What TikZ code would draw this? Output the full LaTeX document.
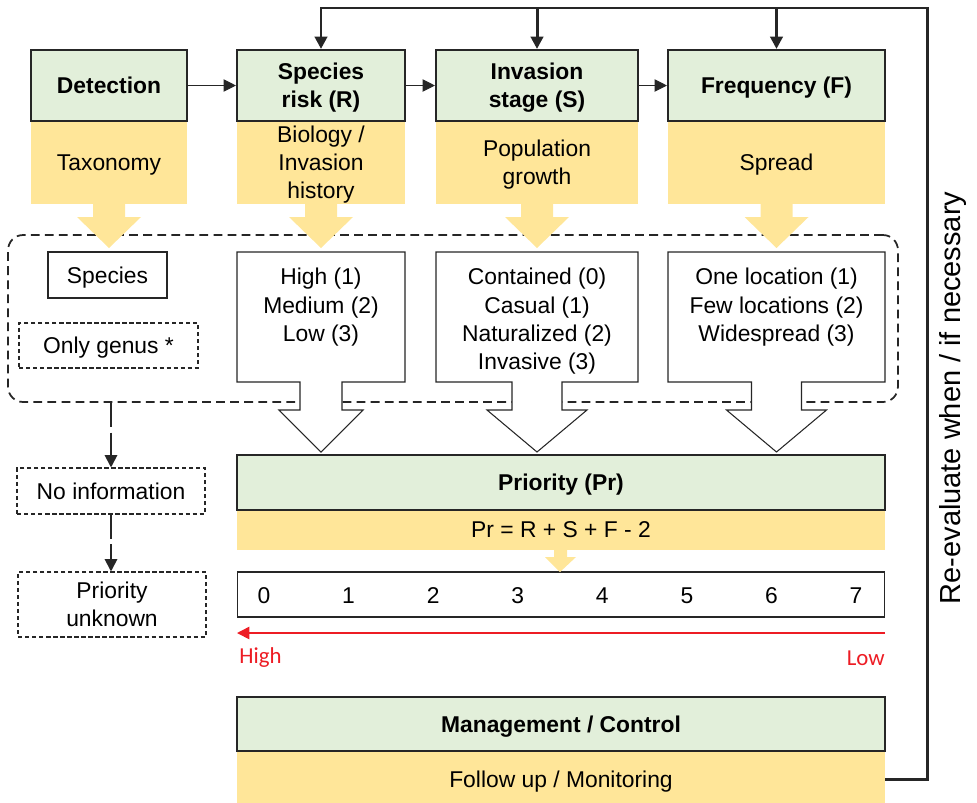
\documentclass[tikz,border=0pt]{standalone}
\usepackage{fontspec}
\setmainfont{Liberation Sans}
\newfontfamily\calibri{Carlito}
\usetikzlibrary{arrows.meta}
\usetikzlibrary{calc}

\definecolor{boxgreen}{HTML}{E2EFDA}
\definecolor{boxyellow}{HTML}{FFE699}
\definecolor{boxline}{HTML}{262626}
\definecolor{scalered}{HTML}{ED1C24}

\begin{document}
\fontsize{13}{16}\selectfont
\begin{tikzpicture}[x=0.02cm, y=-0.02cm]
            \tikzset{head/.style = {draw=boxline, line width=1.2pt, fill=boxgreen, font=\bfseries, align=center, inner sep=0pt, text depth=0pt}}
            \tikzset{info/.style = {fill=boxyellow, align=center, inner sep=0pt, text depth=0pt}}
            \tikzset{plain/.style = {draw=boxline, line width=0.6pt, fill=white, align=center, inner sep=0pt, text depth=0pt}}
            \tikzset{vague/.style = {plain, dash pattern=on 2.5pt off 1.5pt}}
            \tikzset{choice/.style = {draw=boxline, line width=0.6pt, fill=white}}
            \tikzset{hint/.style = {fill=boxyellow}}
            \tikzset{edge/.style = {-,> = {Triangle[length=7pt, width=7pt]}}}
            \tikzset{feedback/.style = {edge, draw=boxline, line width=1.7pt}}
            \tikzset{unsure/.style = {edge, draw=boxline, line width=1.1pt, dash pattern=on 14pt off 3pt}}
            \useasboundingbox (0,0) rectangle (977,802);
            % steps and their criteria
            \node[info, minimum width=3.12cm, minimum height=1.66cm] (taxon) at (109,162.5) {Taxonomy};
            \node[info, minimum width=3.36cm, minimum height=1.66cm] (biology) at (321,162.5) {Biology /\\Invasion\\history};
            \node[info, minimum width=4.04cm, minimum height=1.66cm] (growth) at (537,162.5) {Population\\growth};
            \node[info, minimum width=4.34cm, minimum height=1.66cm] (spread) at (776.5,162.5) {Spread};
            \node[head, minimum width=3.12cm, minimum height=1.42cm] (detect) at (109,85.5) {Detection};
            \node[head, minimum width=3.36cm, minimum height=1.42cm] (risk) at (321,85.5) {Species\\risk (R)};
            \node[head, minimum width=4.04cm, minimum height=1.42cm] (stage) at (537,85.5) {Invasion\\stage (S)};
            \node[head, minimum width=4.34cm, minimum height=1.42cm] (freq) at (776.5,85.5) {Frequency (F)};
            \draw[edge,->,draw=boxline,line width=0.6pt] (detect) -- (risk);
            \draw[edge,->,draw=boxline,line width=0.6pt] (risk) -- (stage);
            \draw[edge,->,draw=boxline,line width=0.6pt] (stage) -- (freq);
            % scores
            \node[draw=boxline, line width=1pt, dash pattern=on 5pt off 3pt, rounded corners=0.3cm, minimum width=17.8cm, minimum height=3.34cm] (known) at (453,318.5) {};
            \foreach \cx in {109,321,537,776.5}
              \fill[hint] (\cx-16,203) -- (\cx+16,203) -- (\cx+16,217) -- (\cx+32,217) -- (\cx,248) -- (\cx-32,217) -- (\cx-16,217) -- cycle;
            \foreach \cx/\hw/\sw/\aw in {321/84/21/42, 537/101/25/50, 776.5/108.5/25/50}
              \draw[choice] (\cx-\hw,252) -- (\cx+\hw,252) -- (\cx+\hw,382) -- (\cx+\sw,382) -- (\cx+\sw,410) -- (\cx+\aw,410) -- (\cx,452) -- (\cx-\aw,410) -- (\cx-\sw,410) -- (\cx-\sw,382) -- (\cx-\hw,382) -- cycle;
            \node[anchor=north, align=center, inner sep=0pt] (risklist) at (321,268) {High (1)\\Medium (2)\\Low (3)};
            \node[anchor=north, align=center, inner sep=0pt] (stagelist) at (537,268) {Contained (0)\\Casual (1)\\Naturalized (2)\\Invasive (3)};
            \node[anchor=north, align=center, inner sep=0pt] (freqlist) at (776.5,268) {One location (1)\\Few locations (2)\\Widespread (3)};
            \node[plain, minimum width=2.38cm, minimum height=0.92cm] (species) at (107.5,275) {Species};
            \node[vague, minimum width=3.58cm, minimum height=0.9cm] (genus) at (108.5,345.5) {Only genus *};
            % unknown branch
            \node[vague, minimum width=3.76cm, minimum height=0.92cm] (noinfo) at (111,491) {No information};
            \node[vague, minimum width=3.76cm, minimum height=1.3cm] (unknown) at (112,604.5) {Priority\\unknown};
            \draw[unsure,->] (known.south -| noinfo.north) -- (noinfo.north);
            \draw[unsure,->] (noinfo.south) -- (noinfo.south |- unknown.north);
            % priority
            \node[info, minimum width=12.96cm, minimum height=0.8cm] (formula) at (561,530) {Pr = R + S + F - 2};
            \node[head, minimum width=12.96cm, minimum height=1.1cm] (prio) at (561,482.5) {Priority (Pr)};
            \node[plain, minimum width=12.96cm, minimum height=0.9cm] (scale) at (561,594.5) {};
            \fill[hint] (554,549) -- (567,549) -- (567,557) -- (576,557) -- (560,572) -- (545,557) -- (554,557) -- cycle;
            \foreach \i in {0,...,7}
              \node (n\i) at (264+84.57*\i,595.5) {\i};
            \node[anchor=west, text=scalered, font=\calibri, inner sep=0pt] (high) at (239,658) {High};
            \node[anchor=east, text=scalered, font=\calibri, inner sep=0pt] (low) at (885,658) {Low};
            \coordinate (lowend) at (885,633);
            \coordinate (highend) at (237,633);
            \draw[edge,->,draw=scalered,line width=0.9pt] (lowend) -- (highend);
            % management and loop back
            \node[info, minimum width=12.96cm, minimum height=1.12cm] (follow) at (561,779) {Follow up / Monitoring};
            \node[head, minimum width=12.96cm, minimum height=1.08cm] (manage) at (561,724) {Management / Control};
            \coordinate (corner) at (927,8);
            \draw[feedback,->] (follow.east) -| (corner) -| (risk.north);
            \draw[feedback,->] (stage.north |- corner) -- (stage.north);
            \draw[feedback,->] (freq.north |- corner) -- (freq.north);
            \node[rotate=90, font=\fontsize{16.5}{19}\selectfont] (reeval) at (953,398) {Re-evaluate when / if necessary};
          \end{tikzpicture}
\end{document}
